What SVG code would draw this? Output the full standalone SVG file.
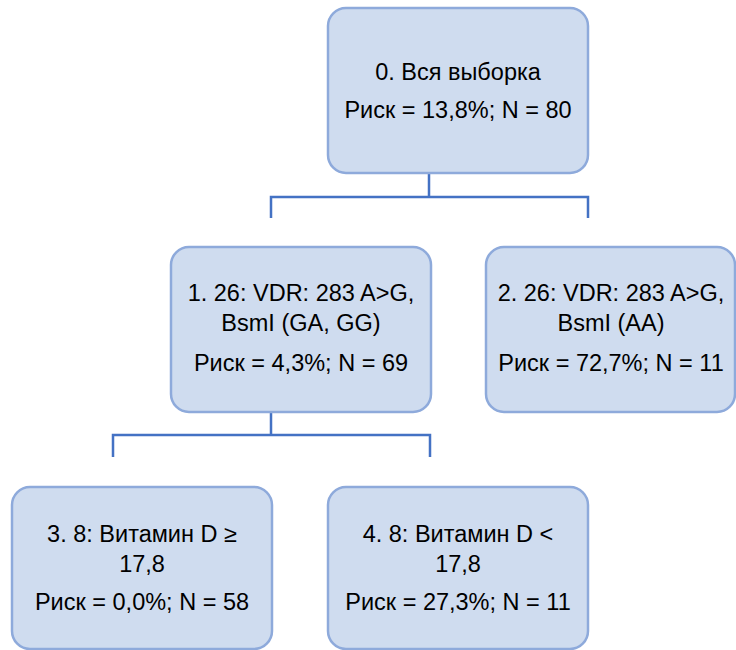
<svg xmlns="http://www.w3.org/2000/svg" width="736" height="650" viewBox="0 0 736 650">
<style>
.box{fill:#CFDCEF;stroke:#8EAADB;stroke-width:2.5}
.conn{fill:none;stroke:#4472C4;stroke-width:2.5}
text{font-family:"Liberation Sans","DejaVu Sans",sans-serif;font-size:23.5px;fill:#000;text-anchor:middle}
</style>
<rect width="736" height="650" fill="#fff"/>
<g id="connectors">
<path class="conn" d="M429,173 V197 M271,218 V197 H588 V218"/>
<path class="conn" d="M271,412 V435 M113,457 V435 H430 V457"/>
</g>
<g id="node0">
<rect class="box" x="328" y="8" width="260" height="165" rx="18"/>
<text x="458" y="80">0. Вся выборка</text>
<text x="458" y="118">Риск = 13,8%; N = 80</text>
</g>
<g id="node1">
<rect class="box" x="171" y="247" width="260" height="165" rx="18"/>
<text x="301" y="301">1. 26: VDR: 283 A&gt;G,</text>
<text x="301" y="331">BsmI (GA, GG)</text>
<text x="301" y="371">Риск = 4,3%; N = 69</text>
</g>
<g id="node2">
<rect class="box" x="486" y="247" width="249" height="165" rx="18"/>
<text x="611" y="301">2. 26: VDR: 283 A&gt;G,</text>
<text x="611" y="331">BsmI (AA)</text>
<text x="611" y="371">Риск = 72,7%; N = 11</text>
</g>
<g id="node3">
<rect class="box" x="12" y="487" width="260" height="162" rx="18"/>
<text x="142" y="542">3. 8: Витамин D ≥</text>
<text x="142" y="572">17,8</text>
<text x="142" y="610">Риск = 0,0%; N = 58</text>
</g>
<g id="node4">
<rect class="box" x="328" y="487" width="260" height="162" rx="18"/>
<text x="458" y="542">4. 8: Витамин D &lt;</text>
<text x="458" y="572">17,8</text>
<text x="458" y="610">Риск = 27,3%; N = 11</text>
</g>
</svg>
